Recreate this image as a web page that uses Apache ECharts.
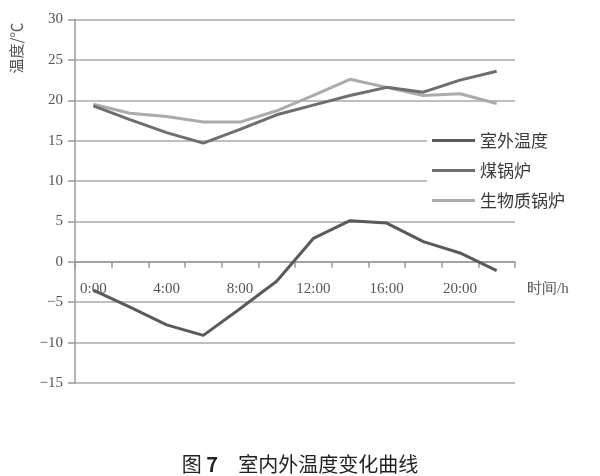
<!DOCTYPE html>
<html>
<head>
<meta charset="utf-8">
<script src="https://cdn.jsdelivr.net/npm/echarts@6/dist/echarts.min.js"></script>
<style>html,body{margin:0;padding:0;background:#fff;}#c{width:600px;height:476px;}</style>
</head>
<body>
<div id="c"></div>
<script>
var categories = ['0:00','2:00','4:00','6:00','8:00','10:00','12:00','14:00','16:00','18:00','20:00','22:00'];
var outdoor = [-3.5, -5.6, -7.8, -9.1, -5.8, -2.4, 2.9, 5.1, 4.8, 2.5, 1.1, -1.1];
var coal = [19.3, 17.6, 16.0, 14.7, 16.4, 18.2, 19.4, 20.6, 21.6, 21.0, 22.5, 23.6];
var biomass = [19.5, 18.4, 18.0, 17.3, 17.3, 18.7, 20.6, 22.6, 21.6, 20.6, 20.8, 19.6];
var yTicks = {min: -15, max: 30, interval: 5};
var names = ['室外温度', '煤锅炉', '生物质锅炉'];

var serif = '"Liberation Serif","DejaVu Serif",serif';
var cjk = '"Noto Sans CJK SC","Noto Sans",sans-serif';
var gridTop = 19.5, gridBottom = 93, H = 476;
var chart = echarts.init(document.getElementById('c'), null, {renderer: 'canvas'});
chart.setOption({
  animation: false,
  backgroundColor: '#fff',
  grid: {left: 75, right: 85, top: gridTop, bottom: gridBottom},
  legend: {
    orient: 'vertical', left: 427, top: 126,
    padding: [6, 8, 6, 5],
    backgroundColor: '#fff',
    icon: 'rect',
    itemWidth: 43, itemHeight: 3, itemGap: 13,
    textStyle: {fontFamily: cjk, fontSize: 17, color: '#3a3a3a'},
    data: names
  },
  title: {
    text: '图 {b|7}　室内外温度变化曲线',
    left: 'center', top: 449,
    textStyle: {fontFamily: cjk, fontSize: 20, fontWeight: 'normal', color: '#222',
      rich: {b: {fontFamily: cjk, fontSize: 20, fontWeight: 'bold', color: '#222'}}}
  },
  xAxis: {
    type: 'category', data: categories, boundaryGap: true,
    axisLine: {onZero: false, lineStyle: {color: '#999', width: 1.5}},
    axisTick: {show: true, interval: 0, inside: false, length: 6, lineStyle: {color: '#999', width: 1.5}},
    axisLabel: {interval: 1, margin: 20, fontFamily: serif, fontSize: 15, color: '#555'},
    splitLine: {show: false}
  },
  yAxis: {
    type: 'value', min: yTicks.min, max: yTicks.max, interval: yTicks.interval,
    axisLine: {show: true, lineStyle: {color: '#999', width: 1.5}},
    axisTick: {show: true, length: 7, lineStyle: {color: '#999', width: 1.5}},
    axisLabel: {margin: 12, fontFamily: serif, fontSize: 15, color: '#555',
      formatter: function (v) { return String(v).replace('-', '\u2212'); }},
    splitLine: {show: true, lineStyle: {color: '#aaa', width: 1.5}}
  },
  graphic: [
    {type: 'text', x: 16, y: 48, rotation: Math.PI / 2,
      style: {text: '温度/℃', fontFamily: cjk, fontSize: 15, fill: '#555', align: 'center', verticalAlign: 'middle'}},
    {type: 'text', x: 527, y: 289,
      style: {text: '时间/h', fontFamily: serif, fontSize: 15, fill: '#555', align: 'left', verticalAlign: 'middle'}}
  ],
  series: [
    {name: names[0], type: 'line', data: outdoor, symbol: 'none', lineStyle: {color: '#5a5a5a', width: 3}, itemStyle: {color: '#5a5a5a'}},
    {name: names[2], type: 'line', data: biomass, symbol: 'none', lineStyle: {color: '#ababab', width: 3}, itemStyle: {color: '#ababab'}},
    {name: names[1], type: 'line', data: coal, symbol: 'none', lineStyle: {color: '#6e6e6e', width: 3}, itemStyle: {color: '#6e6e6e'}}
  ]
});
// Move the category axis (line, ticks, labels) onto the y = 0 line, using the library's own scale.
var zeroY = chart.convertToPixel({yAxisIndex: 0}, 0);
chart.setOption({xAxis: {offset: -((H - gridBottom) - zeroY)}});
</script>
</body>
</html>
